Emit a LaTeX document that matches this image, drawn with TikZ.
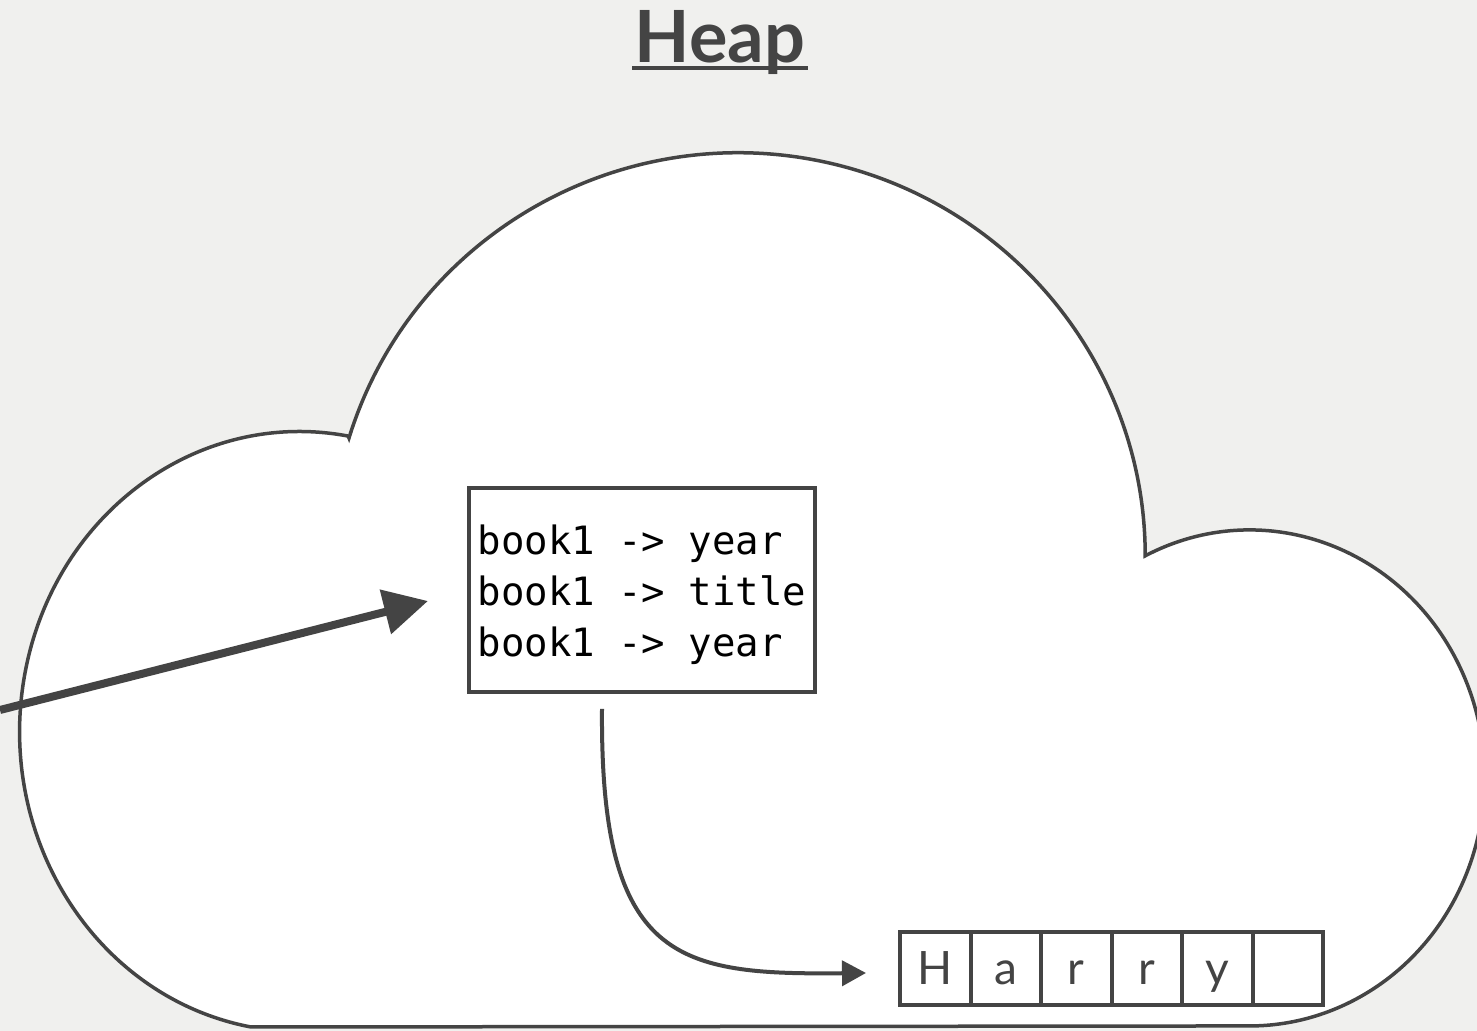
\documentclass[tikz,border=0pt]{standalone}
\usepackage{fontspec}
\setmainfont{Lato}
\newfontfamily\codefont{DejaVu Sans Mono}
\usetikzlibrary{arrows.meta}
\definecolor{ink}{HTML}{444444}
\definecolor{paper}{HTML}{F0F0EE}
\tikzset{
  cloudshape/.style={draw=ink, fill=white, line width=1.75pt, line join=miter},
  heading/.style={text=ink, font=\fontsize{36}{40}\selectfont\bfseries, inner sep=1pt, anchor=base},
  codebox/.style={draw=ink, fill=white, line width=2pt, minimum width=173pt, minimum height=102pt,
    inner sep=0pt, align=left, font=\codefont\fontsize{19.5}{25.5}\selectfont},
  cell/.style={draw=ink, fill=white, line width=2pt, minimum width=35.25pt, minimum height=36.5pt,
    inner sep=0pt, text height=16.5pt, text depth=0pt, text=ink, font=\fontsize{23}{26}\selectfont},
  fatarrow/.style={draw=ink, line width=4pt, -{Triangle[length=22pt,width=22pt]}},
  ptrarrow/.style={draw=ink, line width=2pt, -{Triangle[length=12pt,width=12.5pt]}}
}
\begin{document}
\begin{tikzpicture}[x=0.5pt,y=0.5pt]
  % page and background
  \useasboundingbox (0,0) rectangle (1477,1031);
  \fill[paper] (0,0) rectangle (1477,1031);

  % the heap cloud: top lobe, right lobe, flat bottom, left lobe
  \path[cloudshape] (349,593)
    arc[start angle=163, end angle=0, x radius=407, y radius=403]
    arc[start angle=116.4, end angle=-90, x radius=235, y radius=248]
    -- (251,4)
    arc[start angle=260, end angle=80, x radius=280, y radius=300]
    -- cycle;

  % title
  \node[heading] (heap) at (720,968) {Heap};
  \draw[ink, line width=2pt] ([shift={(0,-5)}]heap.base west) -- ([shift={(0,-5)}]heap.base east);

  % struct in memory
  \node[codebox] (rec) at (642,441)
    {\rule{0pt}{19.8pt}book1 -> year\\book1 -> title\\book1 -> year};

  % character array
  \foreach \ch [count=\i] in {H,a,r,r,y,{}}
    \node[cell] (c\i) at ({935.25+70.5*(\i-1)},62.5) {\ch};

  % incoming reference from outside the heap
  \coordinate (src) at (0,321);
  \draw[fatarrow] (src) -- ([shift={(-39,-11)}]rec.west);

  % pointer from the struct to the string
  \draw[ptrarrow] ([shift={(-40,-15)}]rec.south)
    .. controls +(-2,-253) and +(-188,-2) .. ([shift={(-32,-4.5)}]c1.west);
\end{tikzpicture}
\end{document}
